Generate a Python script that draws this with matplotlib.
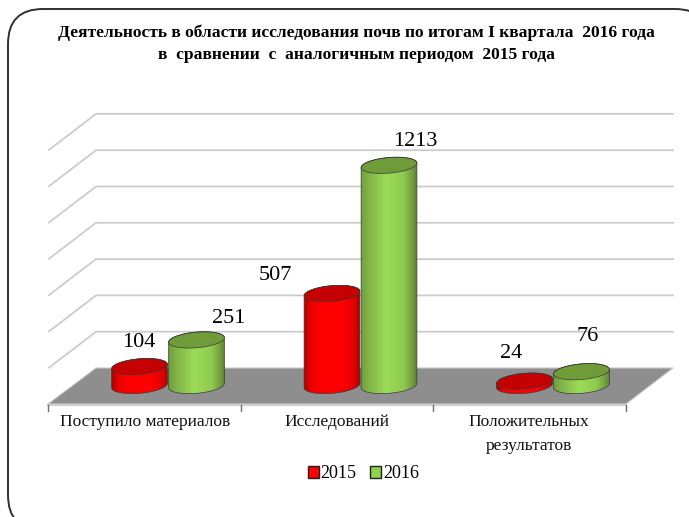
import numpy as np
import matplotlib
matplotlib.use('Agg')
import matplotlib.pyplot as plt
from matplotlib.colors import LinearSegmentedColormap
from matplotlib.patches import FancyBboxPatch, Patch, PathPatch, Polygon
from matplotlib.path import Path

plt.rcParams['font.family'] = ['Liberation Serif', 'DejaVu Serif']

# data
categorias = ['Поступило материалов', 'Исследований', 'Положительных\nрезультатов']
series = ['2015', '2016']
valores_2015 = [104, 507, 24]
valores_2016 = [251, 1213, 76]
lineas_grid = [0, 200, 400, 600, 800, 1000, 1200, 1400]
titulo = ('Деятельность в области исследования почв по итогам I квартала  2016 года\n'
          'в  сравнении  с  аналогичным периодом  2015 года')

W, H = 689, 517
PX_UNIDAD = 0.1815     # pixeles por unidad de valor
PX_CAT = 192.5         # pixeles por categoria
BASE = 385.5           # base de los cilindros
RX, RY = 28.0, 7.8     # radios de la elipse
TILT = np.radians(5)
MARGEN = 100           # unidades bajo el cero, para que quepa la base

# desplazamiento de las etiquetas respecto a la tapa (pixeles)
off_2015 = [(-1, 24), (-57, 18), (-13, 28)]
off_2016 = [(32, 21), (26, 24), (6, 35)]

fig = plt.figure(figsize=(W / 100, H / 100), dpi=100, facecolor='white')

# fondo en pixeles: marco, pared, suelo, titulo
bg = fig.add_axes([0, 0, 1, 1])
bg.set_xlim(0, W)
bg.set_ylim(H, 0)
bg.axis('off')

bg.add_patch(FancyBboxPatch((43, 44), 632, 451, boxstyle='round,pad=35,rounding_size=35',
                            fc='white', ec='#303030', lw=1.4))
for v in lineas_grid[1:]:
    y = 368 - v * PX_UNIDAD
    bg.plot([49, 96, 673], [y + 36, y, y], color='#cccccc', lw=1.3, solid_joinstyle='miter')
bg.add_patch(Polygon([(96, 368), (673, 368), (626, 404), (48, 404)], fc='#8e8e8e', ec='#c8c8c8', lw=0.8))
bg.plot([48, 626], [405, 405], color='#cfcfcf', lw=1.6)
for i in range(4):
    x = 48 + i * (625.5 - 48) / 3
    bg.plot([x, x], [405, 411], color='#707070', lw=1)
bg.text(356, 43.5, titulo, ha='center', va='center', fontsize=12.6, fontweight='bold',
        linespacing=1.54, color='black')
for i, c in enumerate(categorias):
    bg.text(145.5 + i * 191.5, 414, c, ha='center', va='top', fontsize=12.5, linespacing=1.65,
            color='#111111')

# ejes de datos, en el plano de los cilindros
x0 = 168 - PX_CAT / 2
ax = fig.add_axes([x0 / W, 1 - (BASE + MARGEN * PX_UNIDAD) / H, 3 * PX_CAT / W, (1400 + MARGEN) * PX_UNIDAD / H])
ax.axis('off')

cmap_rojo = LinearSegmentedColormap.from_list('r', [(0, '#a00000'), (0.12, '#e80000'), (0.3, '#ff0000'),
                                                    (0.7, '#ff0000'), (0.92, '#d80000'), (1, '#900000')])
cmap_verde = LinearSegmentedColormap.from_list('g', [(0, '#6d9a3c'), (0.12, '#7fb046'), (0.45, '#9cdc58'),
                                                     (0.75, '#8fcb50'), (0.92, '#6f9a3c'), (1, '#557a30')])
grad = np.linspace(0, 1, 128).reshape(1, -1)


def elipse(x, v, t):
    # punto de la elipse inclinada en unidades de datos
    dx = RX * np.cos(t) * np.cos(TILT) + RY * np.sin(t) * np.sin(TILT)
    dy = -RX * np.cos(t) * np.sin(TILT) + RY * np.sin(t) * np.cos(TILT)
    return np.column_stack([x + dx / PX_CAT, v - dy / PX_UNIDAD])


def cilindro(x, v, cmap, tapa, z):
    abajo = elipse(x, 0, np.linspace(np.pi, 0, 40))
    arriba = elipse(x, v, np.linspace(0, -np.pi, 40))
    cuerpo = np.vstack([abajo, arriba])
    ancho = (RX + 1) / PX_CAT
    im = ax.imshow(grad, cmap=cmap, extent=[x - ancho, x + ancho, -MARGEN, v + 100], aspect='auto', zorder=z,
                   interpolation='bilinear')
    borde = PathPatch(Path(np.vstack([cuerpo, cuerpo[:1]])), fc='none', ec='#3a3a3a', lw=0.5, zorder=z + 0.2)
    ax.add_patch(borde)
    im.set_clip_path(borde)
    t = np.linspace(0, 2 * np.pi, 80)
    ax.add_patch(Polygon(elipse(x, v, t), fc=tapa, ec='#3a3a3a', lw=0.5, zorder=z + 0.1))


for i in range(len(categorias)):
    cilindro(i - 28.5 / PX_CAT, valores_2015[i], cmap_rojo, '#c40000', 2)
    cilindro(i + 28.5 / PX_CAT, valores_2016[i], cmap_verde, '#6f9c39', 3)
    ax.annotate(str(valores_2015[i]), (i - 28.5 / PX_CAT, valores_2015[i]), xytext=(off_2015[i][0] * 0.72, off_2015[i][1] * 0.72),
                textcoords='offset points', ha='center', va='center', fontsize=16, annotation_clip=False)
    ax.annotate(str(valores_2016[i]), (i + 28.5 / PX_CAT, valores_2016[i]), xytext=(off_2016[i][0] * 0.72, off_2016[i][1] * 0.72),
                textcoords='offset points', ha='center', va='center', fontsize=16, annotation_clip=False)
ax.set_xlim(-0.5, 2.5)
ax.set_ylim(-MARGEN, 1400)

fig.legend(handles=[Patch(fc='#ff0000', ec='#202020', lw=1, label=series[0]),
                    Patch(fc='#92d050', ec='#202020', lw=1, label=series[1])],
           loc='center', bbox_to_anchor=(363.5 / W, 1 - 474 / H), ncol=2, frameon=False, fontsize=13,
           handlelength=0.6, handleheight=0.6, handletextpad=0.1, columnspacing=0.75, borderpad=0)

plt.savefig('out.png', dpi=100)
plt.close()
